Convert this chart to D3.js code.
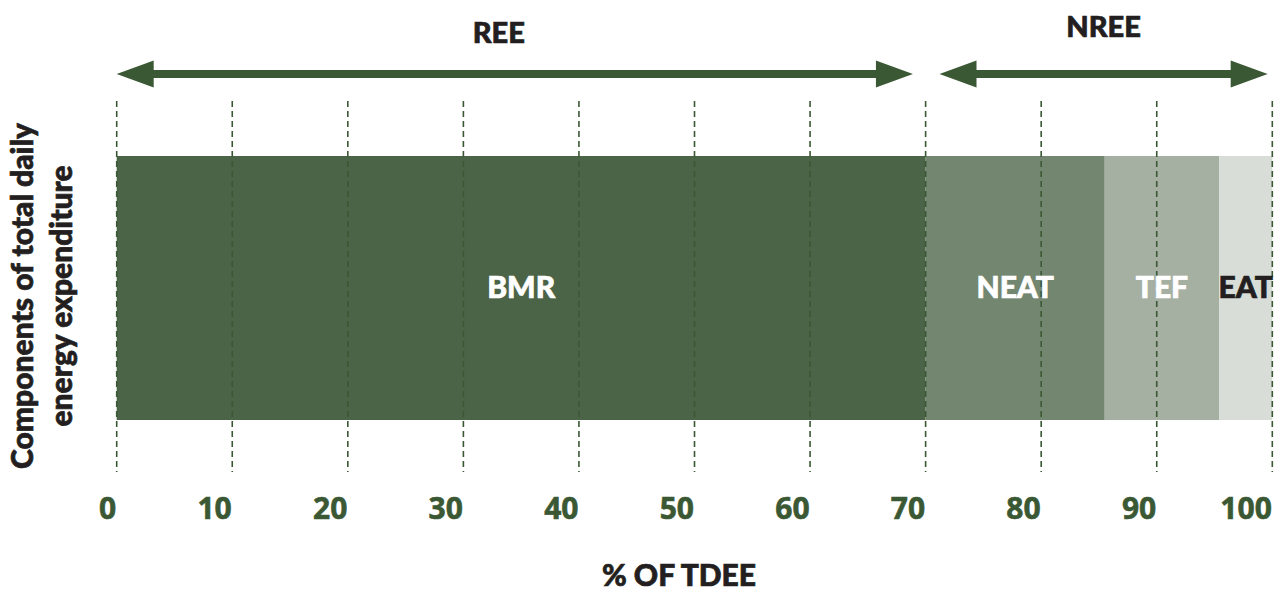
<!DOCTYPE html>
<html>
<head>
<meta charset="utf-8">
<script src="https://cdn.jsdelivr.net/npm/d3@7"></script>
<style>
  body { margin: 0; background: #fff; }
  svg { display: block; }
</style>
</head>
<body>
<div id="chart"></div>
<script>
// Components of TDEE, in % of total
var categories = ['BMR', 'NEAT', 'TEF', 'EAT'];
var values = [70, 15.5, 9.9, 4.6];
var tickValues = [0, 10, 20, 30, 40, 50, 60, 70, 80, 90, 100];

// REE / NREE spans along the % axis
var spanLabels = ['REE', 'NREE'];
var spanStart = [0, 71.2];
var spanEnd = [68.9, 99.6];

var width = 1278;
var height = 591;

var colors = ['#4b6346', '#738670', '#a5b0a3', '#d8ddd7'];
var labelColors = ['#ffffff', '#ffffff', '#ffffff', '#231f20'];
var green = '#3b5834';
var ink = '#231f20';
var titleFont = '"Lato", sans-serif';

var svg = d3.select('#chart')
    .append('svg')
    .attr('width', width)
    .attr('height', height)
    .style('font-family', titleFont)
    .style('font-weight', 900);

var x = d3.scaleLinear()
    .domain([0, 100])
    .range([116.7, 1272.3]);

var y = d3.scaleBand()
    .domain(['TDEE'])
    .range([100, 476])
    .padding(0.175);

// stacked segments
var segs = [];
var acc = 0;
categories.forEach(function(c, i) {
    segs.push({ name: c, x0: acc, x1: acc + values[i], i: i });
    acc += values[i];
});

svg.append('g')
    .selectAll('rect')
    .data(segs)
    .join('rect')
    .attr('x', d => x(d.x0))
    .attr('y', y('TDEE'))
    .attr('width', d => x(d.x1) - x(d.x0))
    .attr('height', y.bandwidth())
    .attr('fill', d => colors[d.i]);

// dashed grid lines
svg.append('g')
    .selectAll('line')
    .data(tickValues)
    .join('line')
    .attr('x1', d => x(d))
    .attr('x2', d => x(d))
    .attr('y1', 101)
    .attr('y2', 472)
    .attr('stroke', green)
    .attr('stroke-width', 1.6)
    .attr('stroke-dasharray', '6,4');

// segment labels (thin stroke to make them heavier)
svg.append('g')
    .selectAll('text')
    .data(segs)
    .join('text')
    .attr('x', d => x((d.x0 + d.x1) / 2))
    .attr('y', y('TDEE') + y.bandwidth() / 2 + 10)
    .attr('text-anchor', 'middle')
    .style('font-size', '30px')
    .attr('fill', d => labelColors[d.i])
    .attr('stroke', d => labelColors[d.i])
    .attr('stroke-width', 0.7)
    .text(d => d.name);

// x axis
var xAxis = d3.axisBottom(x)
    .tickValues(tickValues)
    .tickSize(0)
    .tickPadding(0);

var axisG = svg.append('g')
    .attr('transform', 'translate(0, 498)')
    .call(xAxis);
axisG.select('.domain').remove();
axisG.selectAll('text')
    .attr('text-anchor', 'end')
    .attr('dx', '-1')
    .style('font-family', '"Open Sans", sans-serif')
    .style('font-weight', 700)
    .style('font-size', '30px')
    .attr('fill', green)
    .attr('stroke', green)
    .attr('stroke-width', 0.6);

// double-headed arrows
var head = 37;
var half = 13.5;
var arrowY = 74;
var spans = spanLabels.map(function(l, i) {
    return { label: l, a: x(spanStart[i]), b: x(spanEnd[i]) };
});

var arrows = svg.append('g');
arrows.selectAll('line')
    .data(spans)
    .join('line')
    .attr('x1', d => d.a + head - 2)
    .attr('x2', d => d.b - head + 2)
    .attr('y1', arrowY)
    .attr('y2', arrowY)
    .attr('stroke', green)
    .attr('stroke-width', 8);

arrows.selectAll('path.left')
    .data(spans)
    .join('path')
    .attr('class', 'left')
    .attr('d', d => `M${d.a},${arrowY} L${d.a + head},${arrowY - half} L${d.a + head},${arrowY + half} Z`)
    .attr('fill', green);

arrows.selectAll('path.right')
    .data(spans)
    .join('path')
    .attr('class', 'right')
    .attr('d', d => `M${d.b},${arrowY} L${d.b - head},${arrowY - half} L${d.b - head},${arrowY + half} Z`)
    .attr('fill', green);

svg.append('g')
    .selectAll('text')
    .data(spans)
    .join('text')
    .attr('x', (d, i) => (d.a + d.b) / 2 - (i === 0 ? 16 : 0))
    .attr('y', (d, i) => i === 0 ? 43 : 37)
    .attr('text-anchor', 'middle')
    .style('font-size', '29px')
    .attr('fill', ink)
    .attr('stroke', ink)
    .attr('stroke-width', 0.7)
    .text(d => d.label);

// axis titles
svg.append('text')
    .attr('x', 679)
    .attr('y', 586)
    .attr('text-anchor', 'middle')
    .style('font-size', '30px')
    .attr('fill', ink)
    .attr('stroke', ink)
    .attr('stroke-width', 0.7)
    .text('% OF TDEE');

var yTitle = svg.append('text')
    .attr('transform', 'translate(0, 296) rotate(-90)')
    .attr('text-anchor', 'middle')
    .style('font-size', '30px')
    .attr('fill', ink)
    .attr('stroke', ink)
    .attr('stroke-width', 0.7);
yTitle.append('tspan').attr('x', 0).attr('y', 33).text('Components of total daily');
yTitle.append('tspan').attr('x', 0).attr('y', 72).text('energy expenditure');
</script>
</body>
</html>
